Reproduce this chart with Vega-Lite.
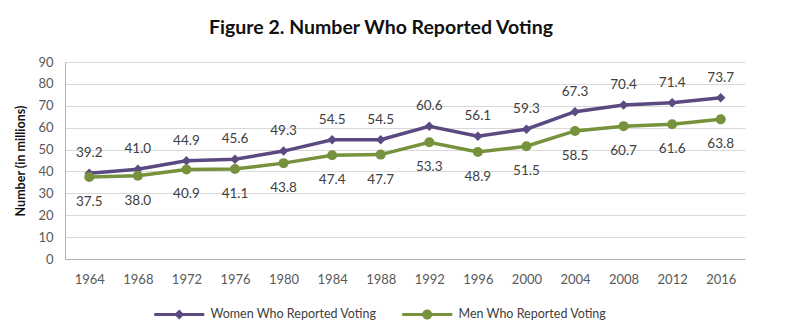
{
  "$schema": "https://vega.github.io/schema/vega-lite/v6.json",
  "autosize": "none",
  "width": 680,
  "height": 197,
  "padding": {"left": 65, "top": 62, "right": 55, "bottom": 71},
  "background": "white",
  "title": {
    "text": "Figure 2. Number Who Reported Voting",
    "font": "Lato",
    "fontSize": 19.5,
    "fontWeight": "bold",
    "color": "#111111",
    "anchor": "middle",
    "dx": -24,
    "offset": 18
  },
  "config": {
    "view": {"stroke": null},
    "font": "Lato",
    "axis": {
      "labelFont": "Lato",
      "labelFontSize": 13,
      "labelColor": "#595959",
      "titleFont": "Lato",
      "domainColor": "#b0b0b0",
      "gridColor": "#d9d9d9",
      "ticks": false
    },
    "legend": {"labelFont": "Lato", "labelFontSize": 12.5, "labelColor": "#404040", "labelLimit": 400}
  },
  "data": {
    "values": [
      {"year": "1964", "series": "Women Who Reported Voting", "value": 39.2},
      {"year": "1968", "series": "Women Who Reported Voting", "value": 41.0},
      {"year": "1972", "series": "Women Who Reported Voting", "value": 44.9},
      {"year": "1976", "series": "Women Who Reported Voting", "value": 45.6},
      {"year": "1980", "series": "Women Who Reported Voting", "value": 49.3},
      {"year": "1984", "series": "Women Who Reported Voting", "value": 54.5},
      {"year": "1988", "series": "Women Who Reported Voting", "value": 54.5},
      {"year": "1992", "series": "Women Who Reported Voting", "value": 60.6},
      {"year": "1996", "series": "Women Who Reported Voting", "value": 56.1},
      {"year": "2000", "series": "Women Who Reported Voting", "value": 59.3},
      {"year": "2004", "series": "Women Who Reported Voting", "value": 67.3},
      {"year": "2008", "series": "Women Who Reported Voting", "value": 70.4},
      {"year": "2012", "series": "Women Who Reported Voting", "value": 71.4},
      {"year": "2016", "series": "Women Who Reported Voting", "value": 73.7},
      {"year": "1964", "series": "Men Who Reported Voting", "value": 37.5},
      {"year": "1968", "series": "Men Who Reported Voting", "value": 38.0},
      {"year": "1972", "series": "Men Who Reported Voting", "value": 40.9},
      {"year": "1976", "series": "Men Who Reported Voting", "value": 41.1},
      {"year": "1980", "series": "Men Who Reported Voting", "value": 43.8},
      {"year": "1984", "series": "Men Who Reported Voting", "value": 47.4},
      {"year": "1988", "series": "Men Who Reported Voting", "value": 47.7},
      {"year": "1992", "series": "Men Who Reported Voting", "value": 53.3},
      {"year": "1996", "series": "Men Who Reported Voting", "value": 48.9},
      {"year": "2000", "series": "Men Who Reported Voting", "value": 51.5},
      {"year": "2004", "series": "Men Who Reported Voting", "value": 58.5},
      {"year": "2008", "series": "Men Who Reported Voting", "value": 60.7},
      {"year": "2012", "series": "Men Who Reported Voting", "value": 61.6},
      {"year": "2016", "series": "Men Who Reported Voting", "value": 63.8}
    ]
  },
  "encoding": {
    "x": {
      "field": "year",
      "type": "ordinal",
      "scale": {"type": "point", "padding": 0.5},
      "axis": {"title": null, "labelAngle": 0, "labelPadding": 14, "grid": false}
    },
    "y": {
      "field": "value",
      "type": "quantitative",
      "scale": {"domain": [0, 90], "nice": false},
      "axis": {
        "values": [0, 10, 20, 30, 40, 50, 60, 70, 80, 90],
        "title": "Number (in millions)",
        "titleFontSize": 12.5,
        "titleFontWeight": "bold",
        "titleColor": "#111111",
        "titlePadding": 10,
        "labelPadding": 12
      }
    },
    "color": {
      "field": "series",
      "type": "nominal",
      "scale": {
        "domain": ["Women Who Reported Voting", "Men Who Reported Voting"],
        "range": ["#5b4a82", "#76923c"]
      },
      "legend": {
        "title": null,
        "orient": "none",
        "direction": "horizontal",
        "legendX": 108,
        "legendY": 246,
        "symbolSize": 100,
        "labelOffset": 25,
        "columnPadding": 25,
        "labelLimit": 400,
        "encode": {
          "symbols": {
            "update": {
              "shape": {"signal": "datum.value === 'Women Who Reported Voting' ? 'M-5,-0.3H5V0.3H-5Z M0,-1L1,0L0,1L-1,0Z' : 'M-5,-0.3H5V0.3H-5Z M-1,0A1,1 0 1,1 1,0A1,1 0 1,1 -1,0Z'"},
              "fill": {"signal": "datum.value === 'Women Who Reported Voting' ? '#5b4a82' : '#76923c'"},
              "strokeWidth": {"value": 0},
              "opacity": {"value": 1}
            }
          }
        }
      }
    }
  },
  "layer": [
    {
      "mark": {"type": "line", "strokeWidth": 3.5},
      "encoding": {}
    },
    {
      "mark": {"type": "point", "filled": true, "opacity": 1},
      "encoding": {
        "shape": {
          "condition": {"test": "datum.series === 'Women Who Reported Voting'", "value": "diamond"},
          "value": "circle"
        },
        "size": {
          "condition": {"test": "datum.series === 'Women Who Reported Voting'", "value": 90},
          "value": 100
        }
      }
    },
    {
      "transform": [{"filter": "datum.series === 'Women Who Reported Voting'"}],
      "mark": {"type": "text", "dy": -20, "fontSize": 13.5, "font": "Lato", "baseline": "middle"},
      "encoding": {
        "text": {"field": "value", "type": "quantitative", "format": ".1f"},
        "color": {"value": "#404040"}
      }
    },
    {
      "transform": [{"filter": "datum.series === 'Men Who Reported Voting'"}],
      "mark": {"type": "text", "dy": 25, "fontSize": 13.5, "font": "Lato", "baseline": "middle"},
      "encoding": {
        "text": {"field": "value", "type": "quantitative", "format": ".1f"},
        "color": {"value": "#404040"}
      }
    }
  ]
}
